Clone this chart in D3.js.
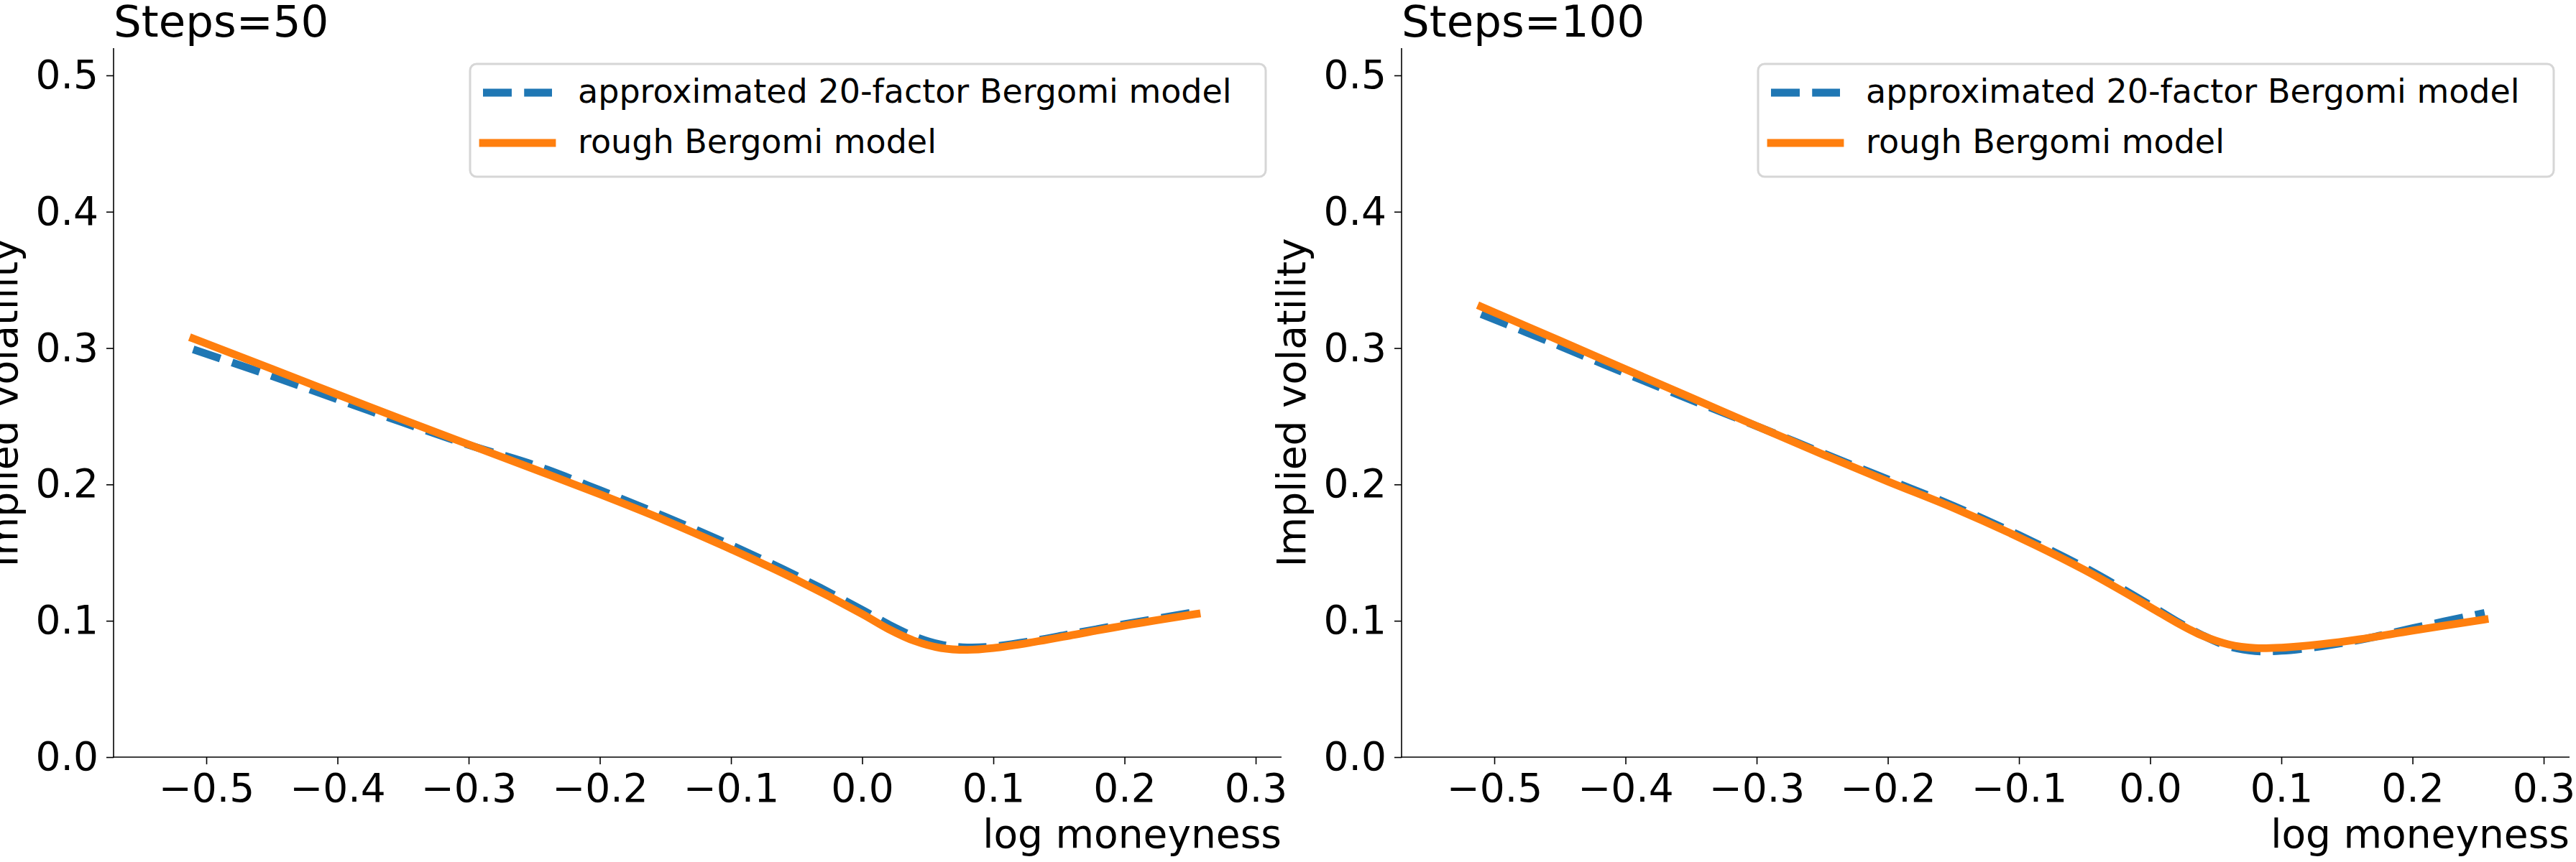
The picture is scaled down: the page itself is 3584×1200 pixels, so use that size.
<!DOCTYPE html>
<html>
<head>
<meta charset="utf-8">
<script src="https://cdn.jsdelivr.net/npm/d3@7"></script>
<style>
  html, body { margin: 0; padding: 0; background: #ffffff; }
  svg { display: block; }
  text { font-family: "DejaVu Sans", sans-serif; fill: #000; }
</style>
</head>
<body>
<svg id="chart" width="3584" height="1200"></svg>
<script>
// ---------------- data ----------------
const logMoneyness = [-0.51, -0.45, -0.40, -0.35, -0.30, -0.25, -0.20, -0.15, -0.10, -0.05,
                       0.00, 0.02, 0.04, 0.06, 0.08, 0.10, 0.13, 0.16, 0.20, 0.255];

const approx50 = [0.2990, 0.2795, 0.2624, 0.2454, 0.2290, 0.2142, 0.1958, 0.1762, 0.1555, 0.1330,
                  0.1080, 0.0974, 0.0884, 0.0825, 0.0804, 0.0812, 0.0852, 0.0905, 0.0975, 0.1066];
const rough50  = [0.3070, 0.2848, 0.2660, 0.2475, 0.2293, 0.2112, 0.1928, 0.1735, 0.1525, 0.1300,
                  0.1050, 0.0940, 0.0852, 0.0800, 0.0787, 0.0800, 0.0843, 0.0895, 0.0965, 0.1050];

const approx100 = [0.3250, 0.3015, 0.2815, 0.2620, 0.2428, 0.2232, 0.2037, 0.1843, 0.1628, 0.1390,
                   0.1115, 0.0998, 0.0893, 0.0812, 0.0778, 0.0780, 0.0812, 0.0860, 0.0945, 0.1058];
const rough100  = [0.3304, 0.3054, 0.2845, 0.2637, 0.2428, 0.2222, 0.2022, 0.1828, 0.1612, 0.1372,
                   0.1100, 0.0988, 0.0890, 0.0826, 0.0800, 0.0803, 0.0828, 0.0865, 0.0928, 0.1010];

const panelTitles = ["Steps=50", "Steps=100"];
const seriesNames = ["approximated 20-factor Bergomi model", "rough Bergomi model"];
const xTicks = [-0.5, -0.4, -0.3, -0.2, -0.1, 0.0, 0.1, 0.2, 0.3];
const yTicks = [0.0, 0.1, 0.2, 0.3, 0.4, 0.5];
const xLabel = "log moneyness";
const yLabel = "Implied volatility";

const panelSeries = [
  [approx50, rough50],
  [approx100, rough100]
];

// ---------------- layout ----------------
const svg = d3.select("#chart");
svg.append("rect").attr("width", 3584).attr("height", 1200).attr("fill", "#ffffff");

const colors = ["#1f77b4", "#ff7f0e"];
const LW = 10.8;
const plot = { left: 158, right: 1783, top: 67, bottom: 1054 };
const panelOffset = 1792;

panelTitles.forEach((title, p) => {
  const g = svg.append("g").attr("transform", `translate(${p * panelOffset},0)`);

  const x = d3.scaleLinear().domain([-0.5707, 0.3197]).range([plot.left, plot.right]);
  const y = d3.scaleLinear().domain([0, 0.52]).range([plot.bottom, plot.top]);

  // lines
  const line = d3.line()
    .x(d => x(d[0]))
    .y(d => y(d[1]))
    .curve(d3.curveCatmullRom.alpha(0.5));

  panelSeries[p].forEach((vals, i) => {
    const pts = logMoneyness.map((m, k) => [m, vals[k]]);
    const path = g.append("path")
      .attr("d", line(pts))
      .attr("fill", "none")
      .attr("stroke", colors[i])
      .attr("stroke-width", LW)
      .attr("stroke-linejoin", "round");
    if (i === 0) {
      path.attr("stroke-dasharray", `${3.7 * LW},${1.6 * LW}`).attr("stroke-linecap", "butt");
    } else {
      path.attr("stroke-linecap", "square");
    }
  });

  // x axis
  const xAxis = d3.axisBottom(x).tickValues(xTicks).tickFormat(d3.format(".1f"))
    .tickSize(10).tickPadding(13).tickSizeOuter(0);
  const gx = g.append("g").attr("transform", `translate(0,${plot.bottom})`).call(xAxis);
  gx.select(".domain").attr("stroke", "#000").attr("stroke-width", 1.6)
    .attr("d", `M${plot.left - 0.8},0H${plot.right}`);
  gx.selectAll(".tick line").attr("stroke", "#000").attr("stroke-width", 1.6);
  gx.selectAll(".tick text").attr("font-size", 55).attr("font-family", "DejaVu Sans").attr("fill", "#000");

  // y axis
  const yAxis = d3.axisLeft(y).tickValues(yTicks).tickFormat(d3.format(".1f"))
    .tickSize(10).tickPadding(11).tickSizeOuter(0);
  const gy = g.append("g").attr("transform", `translate(${plot.left},0)`).call(yAxis);
  gy.select(".domain").attr("stroke", "#000").attr("stroke-width", 1.6)
    .attr("d", `M0,${plot.top}V${plot.bottom + 0.8}`);
  gy.selectAll(".tick line").attr("stroke", "#000").attr("stroke-width", 1.6);
  gy.selectAll(".tick text").attr("font-size", 55).attr("font-family", "DejaVu Sans").attr("fill", "#000");

  // axis labels
  g.append("text")
    .attr("x", plot.right).attr("y", 1180)
    .attr("text-anchor", "end")
    .attr("font-size", 55)
    .text(xLabel);

  g.append("text")
    .attr("transform", `translate(24,${(plot.top + plot.bottom) / 2}) rotate(-90)`)
    .attr("text-anchor", "middle")
    .attr("font-size", 55)
    .text(yLabel);

  // title
  g.append("text")
    .attr("x", plot.left).attr("y", 51)
    .attr("font-size", 61)
    .text(title);

  // legend
  const lg = g.append("g");
  lg.append("rect")
    .attr("x", 654).attr("y", 89)
    .attr("width", 1107).attr("height", 157)
    .attr("rx", 9).attr("ry", 9)
    .attr("fill", "#ffffff").attr("fill-opacity", 0.8)
    .attr("stroke", "#d6d6d6").attr("stroke-width", 3);

  const rowsY = [129, 199];
  seriesNames.forEach((name, i) => {
    const h = lg.append("line")
      .attr("x1", 672).attr("x2", 768)
      .attr("y1", rowsY[i]).attr("y2", rowsY[i])
      .attr("stroke", colors[i])
      .attr("stroke-width", LW);
    if (i === 0) {
      h.attr("stroke-dasharray", `${3.7 * LW},${1.6 * LW}`).attr("stroke-linecap", "butt");
    } else {
      h.attr("stroke-linecap", "square");
    }
    lg.append("text")
      .attr("x", 804).attr("y", rowsY[i] + 14)
      .attr("font-size", 46)
      .text(name);
  });
});
</script>
</body>
</html>
